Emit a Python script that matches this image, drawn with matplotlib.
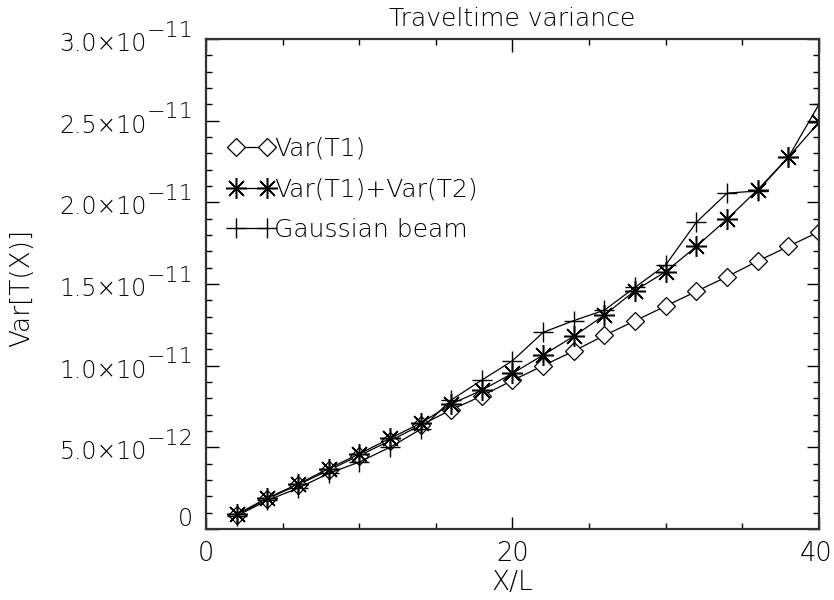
import numpy as np
import matplotlib
matplotlib.use('Agg')
import matplotlib.pyplot as plt
from matplotlib.ticker import MultipleLocator

plt.rcParams['font.family'] = ['DejaVu Sans']
plt.rcParams['font.weight'] = 200
plt.rcParams['axes.titleweight'] = 200
plt.rcParams['axes.labelweight'] = 200

# podatki (odcitani s slike), y v enotah 1e-11
x = [2, 4, 6, 8, 10, 12, 14, 16, 18, 20, 22, 24, 26, 28, 30, 32, 34, 36, 38, 40]
var_t1 = [0.086, 0.185, 0.27, 0.36, 0.45, 0.54, 0.635, 0.73, 0.815, 0.91,
          1.0, 1.09, 1.185, 1.275, 1.365, 1.455, 1.545, 1.64, 1.73, 1.82]
var_t1_t2 = [0.09, 0.19, 0.275, 0.37, 0.46, 0.555, 0.647, 0.765, 0.85, 0.953,
             1.065, 1.18, 1.31, 1.46, 1.576, 1.73, 1.897, 2.077, 2.276, 2.49]
gauss = [0.08, 0.175, 0.25, 0.34, 0.41, 0.50, 0.61, 0.79, 0.912, 1.03,
         1.204, 1.276, 1.34, 1.48, 1.617, 1.878, 2.056, 2.07, 2.276, 2.60]
labels = ['Var(T1)', 'Var(T1)+Var(T2)', 'Gaussian beam']

ytick_vals = [0, 5e-12, 1e-11, 1.5e-11, 2e-11, 2.5e-11, 3e-11]
ytick_mant = ['0', '5.0\u00d710', '1.0\u00d710', '1.5\u00d710', '2.0\u00d710', '2.5\u00d710', '3.0\u00d710']
ytick_exp = ['', '\u221212', '\u221211', '\u221211', '\u221211', '\u221211', '\u221211']
xtick_vals = [0, 20, 40]
xtick_labels = ['0', '20', '40']

scale = 1e-11
xs = np.array(x)

fig = plt.figure(figsize=(8.34, 6.0), dpi=100)
ax = fig.add_axes([0.247, 0.1183, 0.735, 0.8167])

ax.plot(xs, np.array(var_t1) * scale, color='k', lw=0.9, marker='D', ms=9,
        mfc='white', mec='k', mew=0.9, label=labels[0])
ax.plot(xs, np.array(var_t1_t2) * scale, color='k', lw=0.9, marker=(8, 2, 0), ms=15,
        mec='k', mew=1.1, label=labels[1])
ax.plot(xs, np.array(gauss) * scale, color='k', lw=0.9, marker='+', ms=15,
        mec='k', mew=1.0, label=labels[2])

ax.set_xlim(0, 40)
ax.set_ylim(0, 3e-11)

ax.set_xticks(xtick_vals)
ax.set_xticklabels([])
ax.xaxis.set_minor_locator(MultipleLocator(5))
ax.set_yticks(ytick_vals)
ax.yaxis.set_minor_locator(MultipleLocator(1e-12))
ax.set_yticklabels([])
ax.tick_params(which='both', direction='in', top=True, right=True, width=1.0, color='k')
ax.tick_params(which='major', length=9)
ax.tick_params(which='minor', length=4.5)
for s in ax.spines.values():
    s.set_linewidth(1.6)
    s.set_color('#333333')

# x oznake (zadnja malo v levo, da je ne odreze)
for v, t in zip(xtick_vals, xtick_labels):
    dx = -2 if v == xtick_vals[-1] else 0
    ax.annotate(t, xy=(v, 0), xycoords=('data', 'axes fraction'),
                xytext=(dx, -17.5), textcoords='offset points',
                ha='center', va='center', fontsize=18.5)

# y oznake v stilu IDL (eksponent enako velik)
for v, m, e in zip(ytick_vals, ytick_mant, ytick_exp):
    if e == '':
        ax.annotate(m, xy=(0, v), xycoords=('axes fraction', 'data'),
                    xytext=(-9, 7), textcoords='offset points',
                    ha='right', va='center', fontsize=17)
    else:
        ax.annotate(m, xy=(0, v), xycoords=('axes fraction', 'data'),
                    xytext=(-42.5, -3.5), textcoords='offset points',
                    ha='right', va='center', fontsize=17)
        ax.annotate(e, xy=(0, v), xycoords=('axes fraction', 'data'),
                    xytext=(-43, 6), textcoords='offset points',
                    ha='left', va='center', fontsize=16)

ax.set_title('Traveltime variance', fontsize=18, pad=9)
ax.set_xlabel('X/L', fontsize=19, labelpad=26)
fig.text(0.026, 0.52, 'Var[T(X)]', rotation=90, ha='center', va='center', fontsize=19)

ax.legend(loc='upper left', bbox_to_anchor=(0.0, 0.846), frameon=False, fontsize=18,
          numpoints=2, handlelength=1.84, handletextpad=0.0, labelspacing=0.66,
          borderaxespad=0.5)

fig.savefig('out.png', dpi=100)
